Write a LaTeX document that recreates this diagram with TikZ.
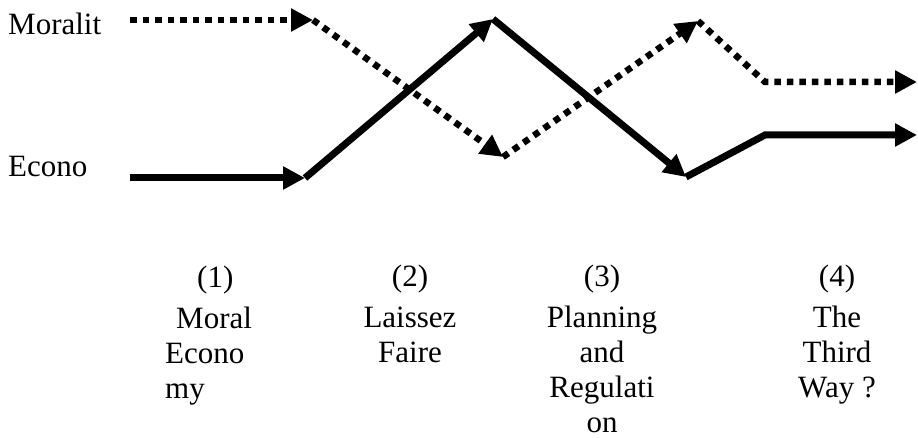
\documentclass[tikz,border=0pt]{standalone}
\usepackage{fontspec}
\setmainfont{Liberation Serif}
\usetikzlibrary{arrows.meta}

\tikzset{
  lbl/.style={font=\fontsize{31}{35}\selectfont, inner sep=0pt},
  stage/.style={lbl, anchor=north, align=center},
  econline/.style={line width=7pt, -{Triangle[length=22pt,width=22pt]}},
  moralline/.style={line width=6.5pt, dash pattern=on 6.5pt off 6pt, -{Triangle[length=22pt,width=22pt]}}
}

\begin{document}
\begin{tikzpicture}[x=1pt, y=-1pt]
  \useasboundingbox (0,0) rectangle (918,438);

  % row labels
  \node[lbl, anchor=base west] (moral) at (8,35) {Moralit};
  \node[lbl, anchor=base west] (econ) at (8,177) {Econo};

  % morality path
  \coordinate (m0) at (130,20);
  \coordinate (m1) at (313,20);
  \coordinate (m2) at (503,157);
  \coordinate (m3) at (698,21);
  \coordinate (m4) at (765,82);
  \coordinate (m5) at (917,82);
  % economy path
  \coordinate (e0) at (130,178);
  \coordinate (e1) at (305,178);
  \coordinate (e2) at (493,19);
  \coordinate (e3) at (686,177);
  \coordinate (e4) at (765,135);
  \coordinate (e5) at (917,135);

  \draw[moralline] (m0) -- (m1);
  \draw[moralline] (m1) -- (m2);
  \draw[moralline] (m2) -- (m3);
  \draw[moralline] (m3) -- (m4) -- (m5);

  \draw[econline] (e0) -- (e1);
  \draw[econline] (e1) -- (e2);
  \draw[econline] (e2) -- (e3);
  \draw[econline] (e3) -- (e4) -- (e5);

  % stages
  \node[lbl, anchor=north west, align=left] (s1) at (165,266)
    {\hspace*{32pt}(1)\\[6pt]\hspace*{11pt}Moral\\Econo\\my};
  \node[stage] (s2) at (410,265) {(2)\\[6pt]Laissez\\Faire};
  \node[stage] (s3) at (602,265) {(3)\\[6pt]Planning\\and\\Regulati\\on};
  \node[stage] (s4) at (837,265) {(4)\\[6pt]The\\Third\\Way ?};
\end{tikzpicture}
\end{document}
